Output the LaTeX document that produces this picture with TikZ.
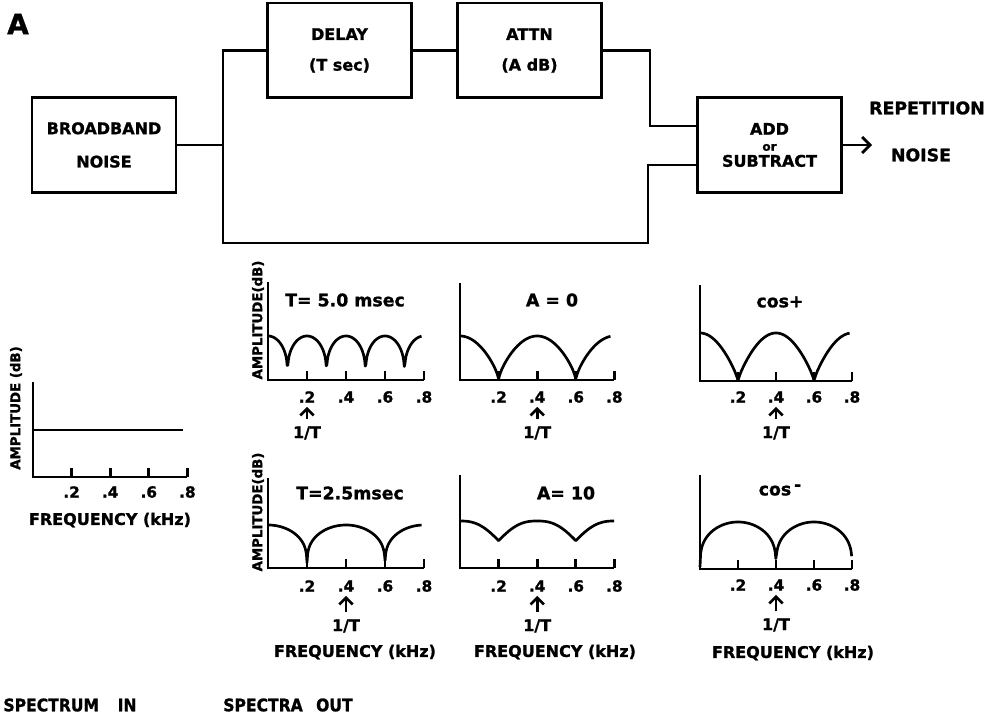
\documentclass[tikz,border=0pt]{standalone}
\usepackage{fontspec}
\setmainfont{DejaVu Sans}[BoldFeatures={FakeBold=1.2}]
\newfontfamily\condfont{DejaVu Sans Condensed}[BoldFeatures={FakeBold=1.2}]
\usetikzlibrary{arrows.meta}

\tikzset{
  blk/.style={draw, line width=2pt, minimum width=108pt, minimum height=71pt,
    inner sep=0pt, align=center, font=\fontsize{12}{15}\selectfont\bfseries},
  wire/.style={line width=2pt},
  axl/.style={line width=2pt},
  crv/.style={line width=2pt, line join=round},
  txt/.style={font=\fontsize{12}{14}\selectfont\bfseries, inner sep=1pt},
  tkl/.style={font=\fontsize{11.5}{13}\selectfont\bfseries, inner sep=1pt},
  ttl/.style={font=\fontsize{13}{15}\selectfont\bfseries, inner sep=1pt},
  ylab/.style={font=\fontsize{10}{12}\selectfont\bfseries, rotate=90, inner sep=0pt},
  uparr/.style={line width=2pt, -{Straight Barb[length=5pt,width=10pt]},
    shorten <=4pt, shorten >=2pt},
}

\begin{document}
\begin{tikzpicture}[x=0.75pt, y=-0.75pt]

  \useasboundingbox (0,0) rectangle (997,724);

  \def\tl{9}   % tick length

  % ----------------------------------------------------------------
  % Block diagram
  % ----------------------------------------------------------------
  \node[font=\fontsize{21}{23}\selectfont\bfseries] (lblA) at (18,24) {A};

  \node[blk] (noise)  at (104,145)   {BROADBAND\\[10pt]NOISE};
  \node[blk] (delay)  at (339.5,50.5) {DELAY\\[8pt](T sec)};
  \node[blk] (attn)   at (529.5,50.5) {ATTN\\[8pt](A dB)};
  \node[blk] (addsub) at (769.5,145) {ADD\\[-3pt]{\fontsize{9}{9}\selectfont or}\\[-3pt]SUBTRACT};

  \coordinate (split) at (223,145);
  \coordinate (jA)    at (650,126);
  \coordinate (jB)    at (648,165);
  \coordinate (jC)    at (648,243);
  \coordinate (out)   at (872,145);

  \draw[wire] (noise) -- (split);
  \draw[wire] (split) |- (delay);
  \draw[wire] (delay) -- (attn);
  \draw[wire] (attn) -| (jA) -- (jA -| addsub.west);
  \draw[wire] (split) |- (jC) -| (jB) -- (jB -| addsub.west);
  \draw[wire, -{Straight Barb[length=6pt,width=12pt]}] (addsub) -- (out);

  \node[txt, font=\fontsize{13}{15}\selectfont\bfseries] (reptxt)   at (927,108) {REPETITION};
  \node[txt, font=\fontsize{13}{15}\selectfont\bfseries] (noisetxt) at (921,155) {NOISE};

  % ----------------------------------------------------------------
  % Spectrum in
  % ----------------------------------------------------------------
  \begin{scope}[shift={(33,477)}]
    \def\kx{193}
    \draw[axl] (0,-95) -- (0,0) -- ({0.8*\kx},0);
    \foreach \n in {2,4,6,8} {
      \draw[axl] ({0.\n*\kx},0) -- ({0.\n*\kx},-\tl);
      \node[tkl] (p0l\n) at ({0.\n*\kx},15) {.\n};
    }
    \draw[crv] (0,-47) -- (150,-47);
    \node[ylab] (p0y) at (-17,-69) {AMPLITUDE (dB)};
    \node[txt]  (p0f) at (77,43) {FREQUENCY (kHz)};
  \end{scope}

  % ----------------------------------------------------------------
  % Spectra out, top row
  % ----------------------------------------------------------------
  \begin{scope}[shift={(268,380)}]
    \def\kx{195}
    \draw[axl] (0,-98) -- (0,0) -- ({0.8*\kx},0);
    \foreach \n in {2,4,6,8} {
      \draw[axl] ({0.\n*\kx},0) -- ({0.\n*\kx},-\tl);
      \node[tkl] (p11l\n) at ({0.\n*\kx},17) {.\n};
    }
    \draw[crv] plot[domain=0:0.79, samples=241]
      ({\x*\kx},{-44*pow(abs(cos(900*\x))+0.00002,0.3)});
    \node[ttl]  (p11t) at (77,-80) {T= 5.0 msec};
    \node[ylab] (p11y) at (-10,-60) {AMPLITUDE(dB)};
    \node[txt]  (p11i) at ({0.2*\kx},53) {1/T};
    \draw[uparr] (p11i) -- (p11l2);
  \end{scope}

  \begin{scope}[shift={(460,380)}]
    \def\kx{193}
    \draw[axl] (0,-97) -- (0,0) -- ({0.8*\kx},0);
    \foreach \n in {2,4,6,8} {
      \draw[axl] ({0.\n*\kx},0) -- ({0.\n*\kx},-\tl);
      \node[tkl] (p12l\n) at ({0.\n*\kx},17) {.\n};
    }
    \draw[crv] plot[domain=0:0.78, samples=241]
      ({\x*\kx},{-44*pow(abs(cos(450*\x))+0.00002,0.7)});
    \node[ttl] (p12t) at (92,-80) {A = 0};
    \node[txt] (p12i) at ({0.4*\kx},53) {1/T};
    \draw[uparr] (p12i) -- (p12l4);
  \end{scope}

  \begin{scope}[shift={(700,381)}]
    \def\kx{190}
    \draw[axl] (0,-96) -- (0,0) -- ({0.8*\kx},0);
    \foreach \n in {2,4,6,8} {
      \draw[axl] ({0.\n*\kx},0) -- ({0.\n*\kx},-\tl);
      \node[tkl] (p13l\n) at ({0.\n*\kx},16) {.\n};
    }
    \draw[crv] plot[domain=0:0.79, samples=241]
      ({\x*\kx},{-48*pow(abs(cos(450*\x))+0.00002,0.8)});
    \node[ttl] (p13t) at (80,-79) {cos+};
    \node[txt] (p13i) at ({0.4*\kx},52) {1/T};
    \draw[uparr] (p13i) -- (p13l4);
  \end{scope}

  % ----------------------------------------------------------------
  % Spectra out, bottom row
  % ----------------------------------------------------------------
  \begin{scope}[shift={(268,568)}]
    \def\kx{195}
    \draw[axl] (0,-90) -- (0,0) -- ({0.8*\kx},0);
    \foreach \n in {2,4,6,8} {
      \draw[axl] ({0.\n*\kx},0) -- ({0.\n*\kx},-\tl);
      \node[tkl] (p21l\n) at ({0.\n*\kx},18) {.\n};
    }
    \draw[crv] plot[domain=0:0.79, samples=241]
      ({\x*\kx},{-43*pow(abs(cos(450*\x))+0.00002,0.3)});
    \node[ttl]  (p21t) at (82,-75) {T=2.5msec};
    \node[ylab] (p21y) at (-10,-56) {AMPLITUDE(dB)};
    \node[txt]  (p21i) at ({0.4*\kx},58) {1/T};
    \draw[uparr] (p21i) -- (p21l4);
    \node[txt]  (p21f) at (87,84) {FREQUENCY (kHz)};
  \end{scope}

  \begin{scope}[shift={(460,568)}]
    \def\kx{193}
    \draw[axl] (0,-93) -- (0,0) -- ({0.8*\kx},0);
    \foreach \n in {2,4,6,8} {
      \draw[axl] ({0.\n*\kx},0) -- ({0.\n*\kx},-\tl);
      \node[tkl] (p22l\n) at ({0.\n*\kx},18) {.\n};
    }
    \draw[crv] plot[domain=0:0.8, samples=241]
      ({\x*\kx},{-47*(1-0.42*pow(1-abs(cos(450*\x)),1.3))});
    \node[ttl] (p22t) at (106,-75) {A= 10};
    \node[txt] (p22i) at ({0.4*\kx},58) {1/T};
    \draw[uparr] (p22i) -- (p22l4);
    \node[txt] (p22f) at (95,84) {FREQUENCY (kHz)};
  \end{scope}

  \begin{scope}[shift={(700,569)}]
    \def\kx{190}
    \draw[axl] (0,-94) -- (0,0) -- ({0.8*\kx},0);
    \foreach \n in {2,4,6,8} {
      \draw[axl] ({0.\n*\kx},0) -- ({0.\n*\kx},-\tl);
      \node[tkl] (p23l\n) at ({0.\n*\kx},16) {.\n};
    }
    \draw[crv] plot[domain=0:0.8, samples=241]
      ({\x*\kx},{-47*pow(abs(sin(450*\x))+0.00002,0.3)});
    \node[ttl] (p23t) at (80,-79) {cos\,\raisebox{.5ex}{-}};
    \node[txt] (p23i) at ({0.4*\kx},56) {1/T};
    \draw[uparr] (p23i) -- (p23l4);
    \node[txt] (p23f) at (93,84) {FREQUENCY (kHz)};
  \end{scope}

  % ----------------------------------------------------------------
  % Captions
  % ----------------------------------------------------------------
  \node[txt, font=\condfont\fontsize{13}{15}\selectfont\bfseries] (capin)  at (70,705)  {SPECTRUM\hspace{14pt}IN};
  \node[txt, font=\condfont\fontsize{13}{15}\selectfont\bfseries] (capout) at (288,705) {SPECTRA\hspace{10pt}OUT};

\end{tikzpicture}
\end{document}
